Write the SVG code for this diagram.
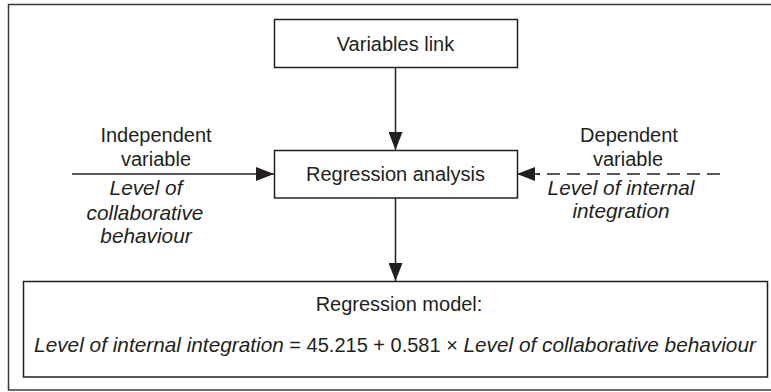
<svg xmlns="http://www.w3.org/2000/svg" width="771" height="392" viewBox="0 0 771 392">
<style>
.box{fill:#fff;stroke:#231f20;stroke-width:1.5}
.ln{fill:none;stroke:#231f20;stroke-width:1.5}
.t{font-family:"Liberation Sans",Arial,sans-serif;font-size:20px;fill:#231f20;text-anchor:middle}
.i{font-style:italic;font-size:20.8px}
</style>
<defs>
<marker id="ah" markerUnits="userSpaceOnUse" markerWidth="18" markerHeight="14" refX="18" refY="7" orient="auto">
<path d="M0,0 L18,7 L0,14 Z" fill="#231f20"/>
</marker>
</defs>
<rect x="8.5" y="4.5" width="780" height="385.5" fill="none" stroke="#3a3a3a" stroke-width="1.5"/>
<g id="connectors">
<line class="ln" x1="395.5" y1="67.5" x2="395.5" y2="150" marker-end="url(#ah)"/>
<line class="ln" x1="395.5" y1="198" x2="395.5" y2="281" marker-end="url(#ah)"/>
<line class="ln" x1="72" y1="174" x2="274" y2="174" marker-end="url(#ah)"/>
<line class="ln" x1="720" y1="174" x2="537" y2="174" stroke-dasharray="13 7"/>
<line class="ln" x1="540" y1="174" x2="517" y2="174" marker-end="url(#ah)"/>
</g>
<g id="variables-link">
<rect class="box" x="274.5" y="19.5" width="243" height="48"/>
<text class="t" x="395.5" y="51">Variables link</text>
</g>
<g id="regression-analysis">
<rect class="box" x="274.5" y="150.5" width="243" height="47.5"/>
<text class="t" x="395.5" y="181">Regression analysis</text>
</g>
<g id="regression-model">
<rect class="box" x="23.5" y="281.5" width="744" height="95.5"/>
<text class="t" x="399" y="311">Regression model:</text>
<text class="t" x="395" y="352"><tspan class="i">Level of internal integration</tspan> = 45.215 + 0.581 × <tspan class="i">Level of collaborative behaviour</tspan></text>
</g>
<g id="independent-variable">
<text class="t" x="156" y="142">Independent</text>
<text class="t" x="156" y="166">variable</text>
<text class="t i" x="146" y="195">Level of</text>
<text class="t i" x="145" y="220">collaborative</text>
<text class="t i" x="146" y="243">behaviour</text>
</g>
<g id="dependent-variable">
<text class="t" x="629" y="142">Dependent</text>
<text class="t" x="628" y="166">variable</text>
<text class="t i" x="621" y="195">Level of internal</text>
<text class="t i" x="621" y="218">integration</text>
</g>
</svg>
